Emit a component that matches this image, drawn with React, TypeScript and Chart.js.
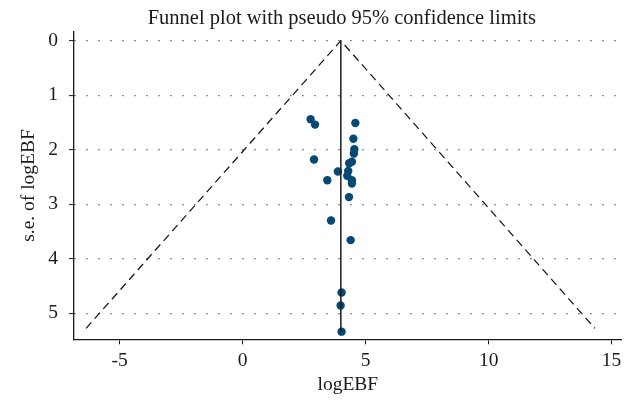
import React, { useEffect, useRef } from "react";
import { Chart, registerables } from "chart.js";

Chart.register(...registerables);

// Study estimates
const logEBF = [
  2.76, 2.94, 4.58, 4.50, 4.54, 4.52, 2.90, 4.44, 4.33, 3.87, 4.29,
  4.25, 4.44, 4.44, 3.44, 4.32, 3.59, 4.39, 4.02, 3.98, 4.02,
];
const seLogEBF = [
  1.44, 1.54, 1.51, 1.80, 1.99, 2.07, 2.18, 2.22, 2.25, 2.40, 2.39,
  2.48, 2.56, 2.62, 2.56, 2.87, 3.30, 3.66, 4.62, 4.86, 5.34,
];

// Pseudo 95% confidence limits (funnel) and pooled estimate line
const limitX = [-6.37, 3.99, 14.32];
const limitY = [5.28, 0, 5.28];
const pooledX = [3.99, 3.99];
const pooledY = [0, 5.34];

// Axes
const xTicks = [-5, 0, 5, 10, 15];
const yTicks = [0, 1, 2, 3, 4, 5];
const xRange = [-6.86, 15.41];
const yRange = [-0.165, 5.48];

const titleText = "Funnel plot with pseudo 95% confidence limits";
const xTitle = "logEBF";
const yTitle = "s.e. of logEBF";

const FONT = "'Liberation Serif', 'DejaVu Serif', serif";
const INK = "#1a1a1a";
const DOT = "#064a74";

export default function App() {
  const ref = useRef<HTMLCanvasElement | null>(null);

  useEffect(() => {
    document.body.style.margin = "0";
    const canvas = ref.current;
    if (!canvas) return;

    const points = logEBF.map((x, i) => ({ x, y: seLogEBF[i] }));
    const limits = limitX.map((x, i) => ({ x, y: limitY[i] }));
    const pooled = pooledX.map((x, i) => ({ x, y: pooledY[i] }));

    const titlePlugin = {
      id: "customTitle",
      afterDraw(chart: any) {
        const { ctx, chartArea } = chart;
        ctx.save();
        ctx.font = `20.5px ${FONT}`;
        ctx.fillStyle = INK;
        ctx.textAlign = "center";
        ctx.textBaseline = "alphabetic";
        ctx.fillText(titleText, (chartArea.left + chartArea.right) / 2 - 6, 24);
        ctx.restore();
      },
    };

    const chart = new Chart(canvas, {
      type: "scatter",
      data: {
        datasets: [
          {
            label: "limits",
            data: limits,
            showLine: true,
            borderColor: INK,
            borderWidth: 1.3,
            borderDash: [8, 5],
            pointRadius: 0,
            fill: false,
          },
          {
            label: "pooled",
            data: pooled,
            showLine: true,
            borderColor: INK,
            borderWidth: 1.5,
            pointRadius: 0,
            fill: false,
          },
          {
            label: "studies",
            data: points,
            backgroundColor: DOT,
            borderColor: DOT,
            borderWidth: 0,
            pointRadius: 4.2,
          },
        ],
      },
      options: {
        responsive: false,
        animation: false,
        layout: { padding: { top: 31.7, right: 12.3, bottom: 0, left: 0 } },
        plugins: {
          legend: { display: false },
          tooltip: { enabled: false },
          title: { display: false },
        },
        scales: {
          x: {
            type: "linear",
            min: xRange[0],
            max: xRange[1],
            afterBuildTicks(scale: any) {
              scale.ticks = xTicks.map((v) => ({ value: v }));
            },
            afterFit(scale: any) {
              scale.height = 62.7;
            },
            ticks: {
              font: { family: FONT, size: 19.5 },
              color: INK,
              padding: 5,
              maxRotation: 0,
            },
            grid: {
              display: true,
              drawOnChartArea: false,
              drawTicks: true,
              tickLength: 5,
              tickColor: INK,
              tickWidth: 1,
            },
            border: { display: true, color: INK, width: 1.3 },
            title: {
              display: true,
              text: xTitle,
              font: { family: FONT, size: 19.5 },
              color: INK,
              padding: { top: 0, bottom: 5 },
            },
          },
          y: {
            type: "linear",
            reverse: true,
            min: yRange[0],
            max: yRange[1],
            afterBuildTicks(scale: any) {
              scale.ticks = yTicks.map((v) => ({ value: v }));
            },
            afterFit(scale: any) {
              scale.width = 74;
            },
            ticks: {
              font: { family: FONT, size: 19.5 },
              color: INK,
              padding: 11,
            },
            grid: {
              display: true,
              drawOnChartArea: true,
              drawTicks: true,
              tickLength: 5,
              color: "#444444",
              lineWidth: 1.2,
              tickColor: INK,
              tickWidth: 1,
              tickBorderDash: [],
            },
            border: { display: true, color: INK, width: 1.3, dash: [1.2, 10.8] },
            title: {
              display: true,
              text: yTitle,
              font: { family: FONT, size: 19.5 },
              color: INK,
              padding: { top: 17, bottom: 0 },
            },
          },
        },
      },
      plugins: [titlePlugin],
    });

    return () => chart.destroy();
  }, []);

  return (
    <div style={{ position: "absolute", left: 0, top: 0, width: 634, height: 402, background: "#fff" }}>
      <canvas ref={ref} width={634} height={402} />
    </div>
  );
}
